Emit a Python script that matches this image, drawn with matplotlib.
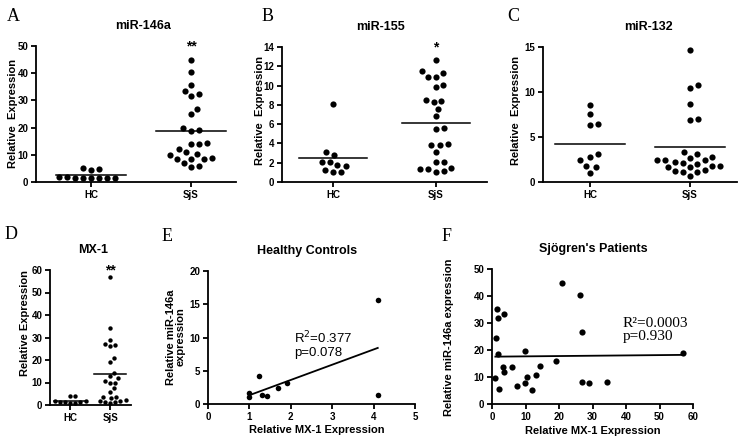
import numpy as np
import matplotlib
matplotlib.use('Agg')
import matplotlib.pyplot as plt

plt.rcParams['font.family'] = ['Liberation Sans', 'DejaVu Sans']

# ---- data ----
groups = ['HC', 'SjS']

mir146a_hc = [4.4, 4.6, 5.3, 1.9, 1.5, 1.3, 1.4, 1.3, 1.5, 1.6, 1.9]
mir146a_sjs = [44.9, 40.3, 35.7, 33.5, 32.2, 31.7, 26.8, 24.9, 19.1, 18.9, 19.7,
               14.5, 14.0, 14.0, 12.1, 10.3, 9.9, 10.9, 8.7, 8.3, 8.3, 8.6,
               7.1, 5.6, 6.0]

mir155_hc = [8.05, 3.07, 2.8, 1.8, 2.1, 2.1, 1.7, 1.25, 1.07, 1.07]
mir155_sjs = [12.7, 11.5, 11.3, 10.9, 10.9, 9.85, 10.1, 8.4, 8.3, 8.5, 7.6, 6.8,
              5.6, 5.5, 3.8, 3.8, 3.9, 3.1, 2.1, 2.1, 1.5, 1.3, 1.0, 1.1, 1.3]

mir132_hc = [8.6, 7.6, 6.3, 6.5, 3.08, 2.8, 2.4, 1.8, 1.67, 1.04]
mir132_sjs = [14.7, 10.8, 10.5, 8.67, 7.04, 6.93, 3.08, 3.3, 2.7, 2.8, 2.5, 2.5,
              2.4, 2.1, 2.26, 2.0, 1.8, 1.67, 1.67, 1.8, 1.3, 1.16, 1.1, 1.23, 0.7]

# MX-1 values (panel D), also the x values of the correlation plots
mx1_hc = [1.0, 1.0, 1.24, 1.3, 1.42, 1.7, 1.9, 4.1, 4.1]
mx1_sjs = [1.5, 1.7, 3.7, 1.3, 1.9, 1.0, 2.1, 3.3, 3.7, 5.9, 7.4, 9.9, 9.9, 10.5,
           11.9, 13.1, 14.4, 19.2, 20.9, 26.3, 26.8, 26.9, 29.1, 34.3, 57.1]

# miR-146a paired with MX-1 (panels E and F)
hc_mir146a_pair = [1.1, 1.6, 4.2, 1.3, 1.2, 2.4, 3.1, 15.7, 1.4]
sjs_mir146a_pair = [35.2, 31.7, 33.3, 24.6, 18.6, 9.5, 5.6, 13.7, 11.9, 13.7, 6.7,
                    19.5, 7.8, 10.0, 5.2, 10.6, 14.1, 15.8, 44.8, 40.2, 26.7, 8.0,
                    7.9, 8.3, 18.8]

W, H = 750, 442
fig = plt.figure(figsize=(W / 100, H / 100), dpi=100)


def add_ax(left, right, top, bottom):
    """axes from pixel edges of the original picture"""
    return fig.add_axes([left / W, 1 - bottom / H, (right - left) / W, (bottom - top) / H])


def swarm(vals, ypx, xpx, gap):
    """simple beeswarm: x offsets (data units) so dots do not overlap"""
    vals = np.asarray(vals, dtype=float)
    offs = np.zeros(len(vals))
    placed = []
    for i in np.argsort(vals):
        y = vals[i] * ypx
        cands = [0.0]
        for px, py in placed:
            dy = y - py
            if abs(dy) < gap:
                dx = np.sqrt(gap ** 2 - dy ** 2)
                cands += [px + dx, px - dx]
        cands.sort(key=abs)
        for c in cands:
            if all((c - px) ** 2 + (y - py) ** 2 >= gap ** 2 - 1e-6 for px, py in placed):
                break
        placed.append((c, y))
        offs[i] = c / xpx
    return offs


def style(ax, fs=7):
    for s in ['top', 'right']:
        ax.spines[s].set_visible(False)
    for s in ['left', 'bottom']:
        ax.spines[s].set_linewidth(1.3)
    ax.tick_params(width=1.3, length=3.5, labelsize=fs, pad=2)
    for lab in ax.get_xticklabels() + ax.get_yticklabels():
        lab.set_fontweight('bold')


def dot_plot(ax, hc, sjs, ymax, ystep, ypx, xpx, gap, dot, half, xlim=(-0.55, 1.45)):
    for k, vals in enumerate([hc, sjs]):
        offs = swarm(vals, ypx, xpx, gap)
        ax.scatter(k + offs, vals, s=dot, color='black', lw=0, clip_on=False, zorder=3)
        m = np.mean(vals)
        ax.plot([k - half, k + half], [m, m], color='black', lw=1.1)
    ax.set_xlim(*xlim)
    ax.set_ylim(0, ymax)
    ax.set_yticks(np.arange(0, ymax + 0.1, ystep))
    ax.set_xticks([0, 1])
    ax.set_xticklabels(groups)
    style(ax)


def ptext(x, y, s, **kw):
    fig.text(x / W, 1 - y / H, s, **kw)


# Panel A
axA = add_ax(36, 236, 46, 182)
dot_plot(axA, mir146a_hc, mir146a_sjs, 50, 10, 2.72, 101, 8, 20, 0.35)
axA.text(1, 50, '**', ha='center', va='center', fontsize=10, fontweight='bold')

# Panel B
axB = add_ax(282, 487, 47, 182)
dot_plot(axB, mir155_hc, mir155_sjs, 14, 2, 9.64, 103, 8, 20, 0.33, xlim=(-0.5, 1.5))
axB.text(1, 14, '*', ha='center', va='center', fontsize=10, fontweight='bold')

# Panel C
axC = add_ax(543, 737, 47, 182)
dot_plot(axC, mir132_hc, mir132_sjs, 15, 5, 9.0, 100, 8, 20, 0.35, xlim=(-0.47, 1.47))

# Panel D
axD = add_ax(50, 131, 270, 405)
dot_plot(axD, mx1_hc, mx1_sjs, 60, 10, 2.25, 40, 5.2, 10, 0.4, xlim=(-0.5, 1.52))
axD.text(1, 60, '**', ha='center', va='center', fontsize=10, fontweight='bold')

# Panel E: healthy controls correlation
axE = add_ax(208, 415, 271, 404)
axE.scatter(mx1_hc, hc_mir146a_pair, s=16, color='black', lw=0, clip_on=False, zorder=3)
k, b = np.polyfit(mx1_hc, hc_mir146a_pair, 1)
xe = np.array([min(mx1_hc), max(mx1_hc)])
axE.plot(xe, k * xe + b, color='black', lw=1.3)
axE.set_xlim(0, 5)
axE.set_ylim(0, 20)
axE.set_xticks(range(0, 6))
axE.set_yticks([0, 5, 10, 15, 20])
style(axE)
axE.text(2.08, 11.1, 'R$^2$=0.377\np=0.078', fontsize=9.5, va='top', ha='left', linespacing=1.0)

# Panel F: Sjogren's patients correlation
axF = add_ax(492, 693, 269, 404)
axF.scatter(mx1_sjs, sjs_mir146a_pair, s=20, color='black', lw=0, clip_on=False, zorder=3)
k, b = np.polyfit(mx1_sjs, sjs_mir146a_pair, 1)
xf = np.array([min(mx1_sjs), max(mx1_sjs)])
axF.plot(xf, k * xf + b, color='black', lw=1.3)
axF.set_xlim(0, 60)
axF.set_ylim(0, 50)
axF.set_xticks(range(0, 61, 10))
axF.set_yticks(range(0, 51, 10))
style(axF)
axF.text(39.0, 32.3, 'R\u00b2=0.0003\np=0.930', fontsize=11, va='top', ha='left',
         family='Liberation Serif', linespacing=1.0)

# titles
tkw = dict(ha='center', va='center', fontsize=9, fontweight='bold')
ptext(143, 26, 'miR-146a', **tkw)
ptext(380, 27, 'miR-155', **tkw)
ptext(648, 27, 'miR-132', **tkw)
ptext(93, 250, 'MX-1', **tkw)
ptext(307, 251, 'Healthy Controls', **tkw)
ptext(593, 249, "Sjögren's Patients", **tkw)

# axis labels
lkw = dict(ha='center', va='center', fontsize=8, fontweight='bold', rotation=90)
ptext(13, 113, 'Relative  Expression', **lkw)
ptext(260, 110, 'Relative  Expression', **lkw)
ptext(516, 110, 'Relative  Expression', **lkw)
ptext(25, 323, 'Relative Expression', **lkw)
ptext(176, 337, 'Relative miR-146a\nexpression', linespacing=1.0, **lkw)
ptext(449, 337, 'Relative miR-146a expression', **lkw)
ptext(317, 430, 'Relative MX-1 Expression', ha='center', va='center', fontsize=8, fontweight='bold')
ptext(593, 431, 'Relative MX-1 Expression', ha='center', va='center', fontsize=8, fontweight='bold')

# panel letters
for lx, ly, letter in [(7, 8, 'A'), (262, 8, 'B'), (507, 8, 'C'),
                       (5, 226, 'D'), (162, 228, 'E'), (442, 228, 'F')]:
    ptext(lx, ly, letter, ha='left', va='top', fontsize=13, family='Liberation Serif')

plt.savefig('out.png', dpi=100)
